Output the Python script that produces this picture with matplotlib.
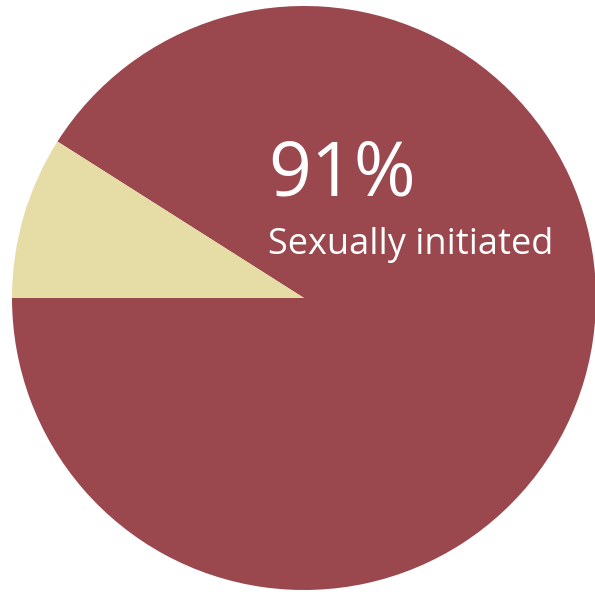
import matplotlib.pyplot as plt

labels = ["Sexually initiated", "Not initiated"]
values = [91, 9]
colors = ["#9A474E", "#E6DCA6"]

W, H = 595, 592
cx, cy, r = 304, 298, 292

fig = plt.figure(figsize=(W / 100, H / 100), dpi=100)
ax = fig.add_axes([0, 0, 1, 1])
ax.pie(values, colors=colors, startangle=180, counterclock=True,
       radius=1, wedgeprops=dict(linewidth=0))
ax.set_xlim(-cx / r, (W - cx) / r)
ax.set_ylim(-(H - cy) / r, cy / r)
ax.set_aspect("auto")
ax.axis("off")

fig.text(268 / W, 1 - 195 / H, f"{values[0]}%", color="white",
         fontsize=54, family="Open Sans", va="baseline")
fig.text(268 / W, 1 - 254 / H, labels[0], color="white",
         fontsize=26, family="Open Sans", va="baseline")

fig.savefig("out.png", dpi=100)
